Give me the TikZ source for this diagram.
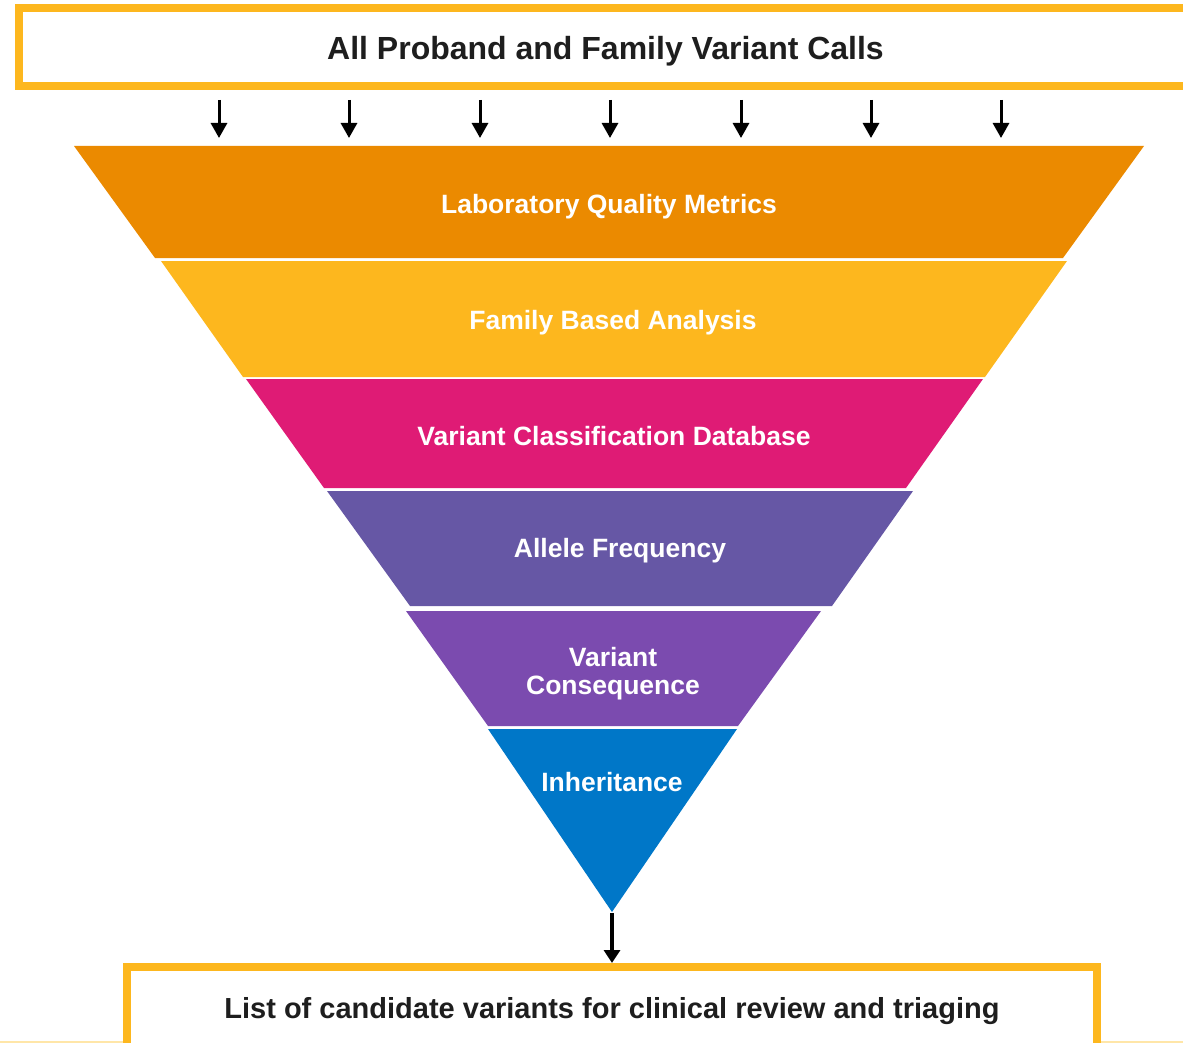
\documentclass[tikz,border=0pt]{standalone}
\usepackage{fontspec}
\setmainfont{Liberation Sans}
\usetikzlibrary{arrows.meta}

\definecolor{boxyellow}{HTML}{FDB71E}
\definecolor{lvlorange}{HTML}{EB8A00}
\definecolor{lvlyellow}{HTML}{FDB71E}
\definecolor{lvlmagenta}{HTML}{DF1B75}
\definecolor{lvlslate}{HTML}{6657A5}
\definecolor{lvlpurple}{HTML}{7B4BAF}
\definecolor{lvlblue}{HTML}{0077C8}
\definecolor{darktext}{HTML}{1E1E1E}
\definecolor{paleline}{HTML}{FFE6A8}

\tikzset{
  framebox/.style={draw=boxyellow, line width=8pt, fill=white, inner sep=0pt},
  headtext/.style={text=darktext, font=\fontsize{32}{36}\selectfont\bfseries},
  foottext/.style={text=darktext, font=\fontsize{29}{33}\selectfont\bfseries},
  layertext/.style={text=white, align=center, font=\fontsize{26.5}{28}\selectfont\bfseries},
  downarrow/.style={line width=3pt, -{Triangle[width=16pt,length=15pt]}},
  footarrow/.style={line width=3.5pt, -{Triangle[width=16pt,length=13pt]}},
}

\begin{document}
\begin{tikzpicture}[x=1pt,y=-1pt]
\useasboundingbox (0,0) rectangle (1183,1043);
\clip (0,0) rectangle (1183,1043);

% faint rule along the lower edge
\draw[paleline, line width=2pt] (0,1041.5) -- (1183,1041.5);

% input box (open to the right)
\node (topbox) [framebox, minimum width=1181pt, minimum height=78pt] at (609.5,47) {};
\node (toptext) [headtext] at (605.5,51) {All Proband and Family Variant Calls};

% arrows feeding the funnel
\foreach \i/\x in {1/219,2/349,3/480,4/610,5/741,6/871,7/1001}{
  \coordinate (in\i) at (\x,100);
  \coordinate (out\i) at (\x,138);
  \draw[downarrow] (in\i) -- (out\i);
}

% funnel levels
\fill[lvlorange]  (74,146)  -- (1144,146) -- (1063,258) -- (155,258) -- cycle;
\fill[lvlyellow]  (161,261) -- (1067,261) -- (985,377)  -- (243,377) -- cycle;
\fill[lvlmagenta] (246,379) -- (983,379)  -- (906,488)  -- (324,488) -- cycle;
\fill[lvlslate]   (327,491) -- (913,491)  -- (832,606)  -- (410,606) -- cycle;
\fill[lvlpurple]  (406,611) -- (821,611)  -- (738,726)  -- (488,726) -- cycle;
\fill[lvlblue]    (488,729) -- (737,729)  -- (612,912)  -- cycle;
\coordinate (apex) at (612,913);

\node (lqm) [layertext] at (609,207) {Laboratory Quality Metrics};
\node (fba) [layertext] at (613,323) {Family Based Analysis};
\node (vcd) [layertext] at (614,436) {Variant Classification Database};
\node (af)  [layertext] at (620,551) {Allele Frequency};
\node (vc)  [layertext] at (613,674) {Variant\\Consequence};
\node (inh) [layertext] at (612,782) {Inheritance};

% output box (open at the bottom)
\node (bottombox) [framebox, minimum width=970pt, minimum height=93pt] at (612,1013.5) {};
\node (bottomtext) [foottext] at (612,1011) {List of candidate variants for clinical review and triaging};

\draw[footarrow] (apex) -- (bottombox.north);
\end{tikzpicture}
\end{document}
